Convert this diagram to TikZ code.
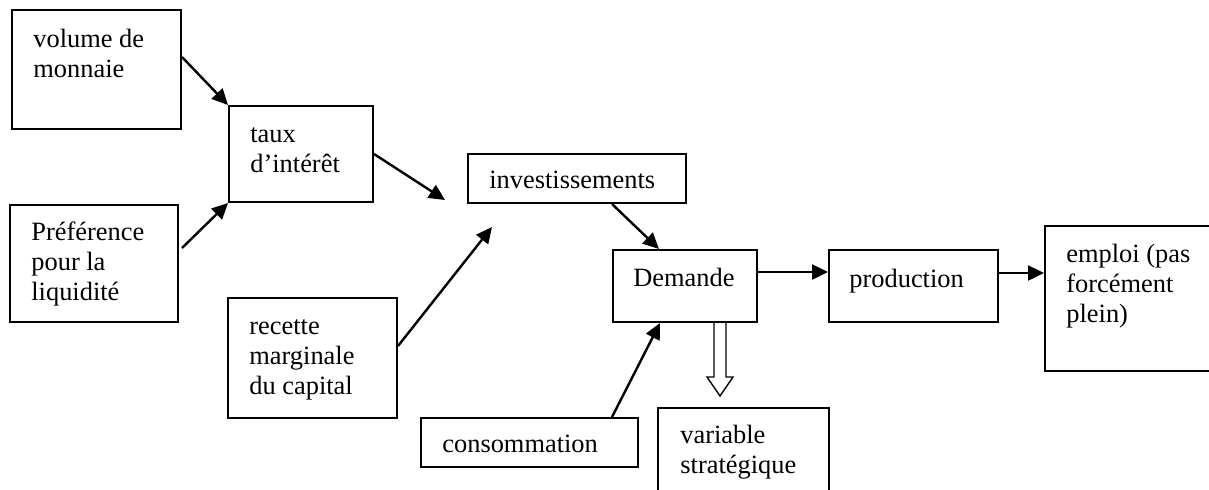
\documentclass[tikz,border=0pt]{standalone}
\usepackage{fontspec}
\setmainfont{Liberation Serif}
\usepackage{tikz}
\usetikzlibrary{arrows.meta, fit}

\tikzset{
    box/.style={draw, line width=1pt, inner sep=0pt},
    lbl/.style={anchor=base west, inner sep=0pt, align=left},
    arr/.style={line width=1.2pt, -{Triangle[length=8pt, width=7.5pt]}},
    hollow/.style={line width=0.7pt, line join=miter}
}

\begin{document}
\begin{tikzpicture}[x=0.5pt, y=-0.5pt, font=\fontsize{13.2}{15}\selectfont]
    \clip (0,0) rectangle (1209,489);
    % Boxes
    \node[box, fit={(12,10) (181,129)}] (vol) {};
    \node[box, fit={(229,106) (373,202)}] (taux) {};
    \node[box, fit={(10,205) (178,322)}] (pref) {};
    \node[box, fit={(228,298) (397,418)}] (recette) {};
    \node[box, fit={(468,154) (686,203)}] (invest) {};
    \node[box, fit={(613,250) (757,322)}] (demande) {};
    \node[box, fit={(829,250) (998,322)}] (production) {};
    \node[box, fit={(1045,226) (1230,371)}] (emploi) {};
    \node[box, fit={(421,418) (638,467)}] (conso) {};
    \node[box, fit={(658,408) (829,510)}] (variable) {};
    % Box texts (placed at the baseline of their last line)
    \node[lbl] (volT) at (33,77) {volume de\\monnaie};
    \node[lbl] (tauxT) at (250,172) {taux\\d’intérêt};
    \node[lbl] (prefT) at (31,300) {Préférence\\pour la\\liquidité};
    \node[lbl] (recetteT) at (249,394) {recette\\marginale\\du capital};
    \node[lbl] (investT) at (489,188) {investissements};
    \node[lbl] (demandeT) at (633,286) {Demande};
    \node[lbl] (productionT) at (849,287) {production};
    \node[lbl] (emploiT) at (1066,322) {emploi (pas\\forcément\\plein)};
    \node[lbl] (consoT) at (442,452) {consommation};
    \node[lbl] (variableT) at (680,473) {variable\\stratégique};
    % Free arrow ends
    \coordinate (tauxEnd) at (445,200);
    \coordinate (recetteEnd) at (492,227);
    % Arrows
    \draw[arr] ([shift={(0,48)}]vol.north east) -- (taux.north west);
    \draw[arr] ([shift={(3,44)}]pref.north east) -- (taux.south west);
    \draw[arr] (taux.east) -- (tauxEnd);
    \draw[arr] ([shift={(0,49)}]recette.north east) -- (recetteEnd);
    \draw[arr] ([shift={(145,0)}]invest.south west) -- ([shift={(47,0)}]demande.north west);
    \draw[arr] ([shift={(0,23)}]demande.north east) -- ([shift={(0,23)}]production.north west);
    \draw[arr] ([shift={(0,24)}]production.north east) -- ([shift={(0,48)}]emploi.north west);
    \draw[arr] ([shift={(192,0)}]conso.north west) -- ([shift={(48,0)}]demande.south west);
    % Hollow arrow
    \draw[hollow] ([shift={(102,0)}]demande.south west) -- ++(0,54) -- ++(-7,0)
        -- ++(13,19) -- ++(13,-19) -- ++(-7,0) -- ++(0,-54);
\end{tikzpicture}
\end{document}
